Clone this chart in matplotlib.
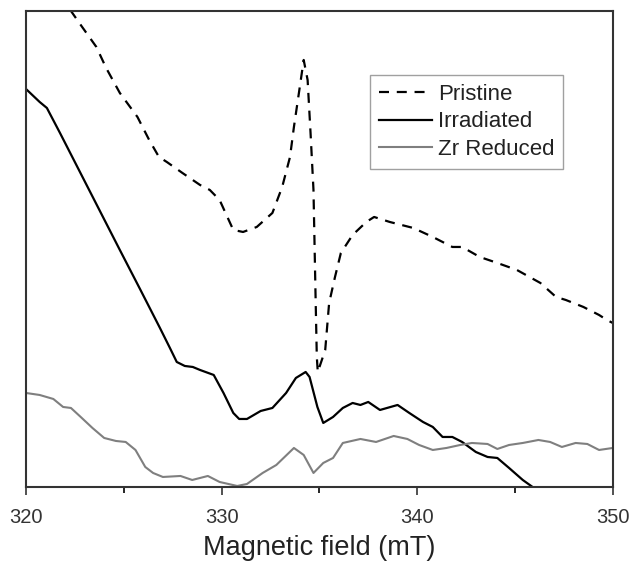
import matplotlib
matplotlib.use("Agg")
import matplotlib.pyplot as plt

plt.rcParams['font.family'] = ['Liberation Sans', 'DejaVu Sans']

# EPR spectra, intensity in arbitrary units
field_pristine = [319.5, 322.3, 322.8, 323.6, 324.1, 324.8, 325.7, 326.3, 326.8, 327.2,
                  328.0, 328.9, 329.4, 329.9, 330.6, 331.1, 331.8, 332.6, 333.1, 333.5,
                  333.7, 334.0, 334.2, 334.4, 334.55, 334.7, 334.8, 334.87, 334.92, 335.3,
                  335.5, 335.8, 336.1, 336.7, 337.4, 337.8, 338.6, 339.8, 340.8, 341.8,
                  342.3, 343.2, 344.1, 345.1, 346.3, 347.1, 347.6, 348.5, 349.3, 349.7,
                  350.0]
sig_pristine = [520, 476, 462, 440, 419, 394, 370, 347, 330, 325,
                314, 302, 297, 287, 257, 255, 260, 274, 300, 330,
                360, 400, 427, 407, 354, 297, 197, 130, 115, 137,
                184, 210, 234, 252, 265, 270, 265, 259, 250, 240,
                240, 230, 224, 217, 204, 190, 187, 180, 172, 167,
                164]

field_irr = [320.0, 320.7, 321.07, 321.74, 322.76, 323.78, 324.80, 325.83, 326.85, 327.36,
             327.71, 328.12, 328.53, 328.9, 329.6, 330.1, 330.6, 330.9, 331.3, 332.0,
             332.6, 333.3, 333.8, 334.3, 334.5, 334.9, 335.2, 335.7, 336.2, 336.7,
             337.1, 337.5, 338.1, 339.0, 339.6, 340.3, 340.8, 341.3, 341.8, 342.3,
             343.0, 343.6, 344.1, 344.7, 345.4, 345.9, 347.0]
sig_irr = [398, 385, 379, 354, 315, 276, 237, 198, 159, 139,
           125, 121, 120, 117, 112, 94, 74, 68, 68, 76,
           79, 94, 109, 115, 110, 80, 64, 70, 79, 84,
           82, 85, 77, 82, 74, 65, 60, 50, 50, 45,
           35, 30, 29, 19, 7, 0, -20]

field_zr = [320.0, 320.7, 321.4, 321.9, 322.3, 322.8, 323.4, 324.0, 324.6, 325.1,
            325.6, 326.1, 326.5, 327.0, 327.9, 328.5, 329.3, 329.9, 330.8, 331.3,
            332.1, 332.8, 333.7, 334.2, 334.7, 335.2, 335.7, 336.2, 337.1, 337.9,
            338.8, 339.5, 340.1, 340.8, 341.5, 342.2, 342.8, 343.6, 344.1, 344.7,
            345.4, 346.2, 346.8, 347.4, 348.1, 348.7, 349.3, 350.0]
sig_zr = [94, 92, 88, 80, 79, 70, 59, 49, 46, 45,
          37, 20, 14, 10, 11, 7, 11, 5, 1, 3,
          14, 22, 39, 32, 14, 24, 29, 44, 48, 45,
          51, 48, 42, 37, 39, 42, 44, 43, 38, 42,
          44, 47, 45, 40, 44, 43, 37, 39]

fig = plt.figure(figsize=(6.33, 5.62), dpi=100)
ax = fig.add_axes([0.041, 0.1335, 0.927, 0.847])

ax.plot(field_pristine, sig_pristine, color='black', lw=1.6,
        linestyle=(0, (4.5, 3.5)), label='Pristine')
ax.plot(field_irr, sig_irr, color='black', lw=1.6, label='Irradiated')
ax.plot(field_zr, sig_zr, color='#7f7f7f', lw=1.5, label='Zr Reduced')

ax.set_xlim(320, 350)
ax.set_ylim(0, 476)
ax.set_xticks([320, 330, 340, 350])
ax.set_xticks([325, 335, 345], minor=True)
ax.set_yticks([])
ax.tick_params(axis='x', which='major', length=6, width=1.2, labelsize=14.5, pad=9, colors='#333333')
ax.tick_params(axis='x', which='minor', length=4, width=1.2)
for sp in ax.spines.values():
    sp.set_linewidth(1.5)
    sp.set_color('#333333')
ax.set_xlabel('Magnetic field (mT)', fontsize=19.5, labelpad=6, color='#222222')

leg = ax.legend(loc='upper left', bbox_to_anchor=(0.586, 0.866), borderaxespad=0,
                fontsize=16, handlelength=2.4, handletextpad=0.27, labelspacing=0.3,
                borderpad=0.4, fancybox=False, frameon=True)
leg.get_frame().set_edgecolor('#888888')
leg.get_frame().set_linewidth(1.0)
for t in leg.get_texts():
    t.set_color('#222222')

fig.savefig('out.png', dpi=100)
